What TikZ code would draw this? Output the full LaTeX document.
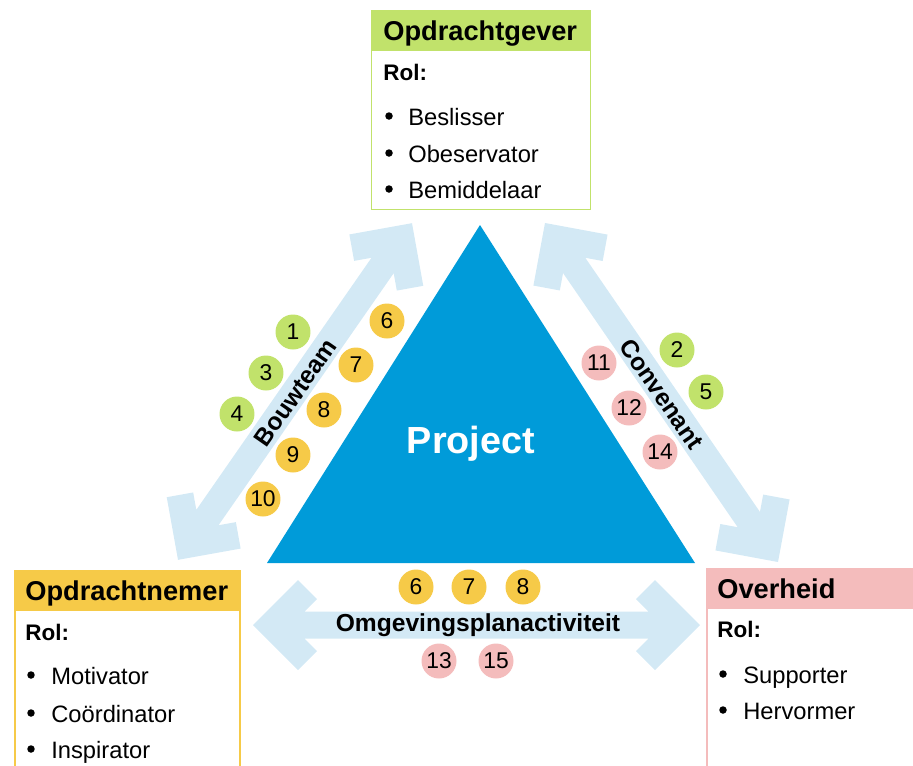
\documentclass[tikz,border=0pt]{standalone}
\usepackage{fontspec}
\setmainfont{Liberation Sans}
\definecolor{gevergreen}{RGB}{193,226,107}
\definecolor{nemeryellow}{RGB}{246,202,72}
\definecolor{overheidpink}{RGB}{244,188,188}
\definecolor{projblue}{RGB}{0,155,217}
\definecolor{arrowblue}{RGB}{211,233,245}
\begin{document}
\begin{tikzpicture}[x=0.02cm,y=-0.02cm,
  hdrtext/.style={anchor=base west,inner sep=0pt,font=\fontsize{15.5}{18}\selectfont\bfseries},
  roltext/.style={anchor=base west,inner sep=0pt,font=\fontsize{12.8}{15}\selectfont\bfseries},
  itemtext/.style={anchor=base west,inner sep=0pt,font=\fontsize{13.5}{16}\selectfont},
  bulletdot/.style={circle,fill=black,inner sep=0pt,minimum size=0.15cm},
  arrowlabel/.style={inner sep=0pt,font=\fontsize{14}{16}\selectfont\bfseries},
  num/.style={circle,inner sep=0pt,minimum size=0.7cm,font=\fontsize{13}{15}\selectfont},
  numg/.style={num,fill=gevergreen},
  numy/.style={num,fill=nemeryellow},
  nump/.style={num,fill=overheidpink},
  boxline/.style={line width=1pt},
  pics/widearrow/.style={code={
    \fill[arrowblue] (#1,0) -- (#1-45,45) -- (#1-64,26) -- (#1-51.5,13.5)
      -- (-#1+51.5,13.5) -- (-#1+64,26) -- (-#1+45,45) -- (-#1,0)
      -- (-#1+45,-45) -- (-#1+64,-26) -- (-#1+51.5,-13.5)
      -- (#1-51.5,-13.5) -- (#1-64,-26) -- (#1-45,-45) -- cycle;
  }}]
\useasboundingbox (0,0) rectangle (913,765);
\begin{scope}
\clip (0,0) rectangle (913,765);

% broad double arrows between the parties
\pic[rotate=55.2] at (295,391.5) {widearrow=205};
\pic[rotate=-55.5] at (661.5,392.5) {widearrow=205.7};
\pic at (476.5,625) {widearrow=223.5};

% central triangle
\fill[projblue] (480,225) -- (695,563) -- (267,563) -- cycle;
\node[inner sep=0pt,anchor=base,text=white,font=\fontsize{21.5}{24}\selectfont\bfseries] (project) at (471,453) {Project};

% arrow labels
\node[arrowlabel,rotate=55.2] (bouwteam) at (295.5,392.5) {Bouwteam};
\node[arrowlabel,rotate=-55.5] (convenant) at (661.7,394) {Convenant};
\node[arrowlabel] (omgeving) at (478,625) {Omgevingsplanactiviteit};

% Opdrachtgever
\fill[gevergreen] (371,10) rectangle (591,50);
\draw[boxline,gevergreen] (371.5,50) rectangle (590.5,209.5);
\node[hdrtext] (gever) at (383,40) {Opdrachtgever};
\node[roltext] (geverrol) at (383,80) {Rol:};
\node[bulletdot] (gb1) at (389,116) {};
\node[itemtext] (gi1) at (408,125) {Beslisser};
\node[bulletdot] (gb2) at (389,153) {};
\node[itemtext] (gi2) at (408,162) {Obeservator};
\node[bulletdot] (gb3) at (389,189) {};
\node[itemtext] (gi3) at (408,198) {Bemiddelaar};

% Opdrachtnemer
\fill[nemeryellow] (14,570) rectangle (241,611);
\draw[boxline,nemeryellow] (15,611) -- (15,770);
\draw[boxline,nemeryellow] (240,611) -- (240,770);
\node[hdrtext] (nemer) at (25,600) {Opdrachtnemer};
\node[roltext] (nemerrol) at (25,640) {Rol:};
\node[bulletdot] (nb1) at (31,675) {};
\node[itemtext] (ni1) at (51,684) {Motivator};
\node[bulletdot] (nb2) at (31,713) {};
\node[itemtext] (ni2) at (51,722) {Coördinator};
\node[bulletdot] (nb3) at (31,749) {};
\node[itemtext] (ni3) at (51,758) {Inspirator};

% Overheid
\fill[overheidpink] (706,568) rectangle (920,609);
\draw[boxline,overheidpink] (707,609) -- (707,770);
\node[hdrtext] (overheid) at (717,598) {Overheid};
\node[roltext] (overheidrol) at (717,637) {Rol:};
\node[bulletdot] (ob1) at (723,674) {};
\node[itemtext] (oi1) at (743,683) {Supporter};
\node[bulletdot] (ob2) at (723,710) {};
\node[itemtext] (oi2) at (743,719) {Hervormer};

% numbered markers along the Bouwteam arrow
\node[numg] (b1) at (293,332) {1};
\node[numg] (b3) at (266,373) {3};
\node[numg] (b4) at (237,414) {4};
\node[numy] (b6) at (387,321) {6};
\node[numy] (b7) at (356,365) {7};
\node[numy] (b8) at (324,410) {8};
\node[numy] (b9) at (293,455) {9};
\node[numy] (b10) at (263,499) {10};

% numbered markers along the Convenant arrow
\node[numg] (c2) at (677,350) {2};
\node[numg] (c5) at (706,392) {5};
\node[nump] (c11) at (599,363) {11};
\node[nump] (c12) at (629,408) {12};
\node[nump] (c14) at (660,452) {14};

% numbered markers along the Omgevingsplanactiviteit arrow
\node[numy] (o6) at (416,587) {6};
\node[numy] (o7) at (469,587) {7};
\node[numy] (o8) at (523,587) {8};
\node[nump] (o13) at (439,661) {13};
\node[nump] (o15) at (496,661) {15};
\end{scope}
\end{tikzpicture}
\end{document}
